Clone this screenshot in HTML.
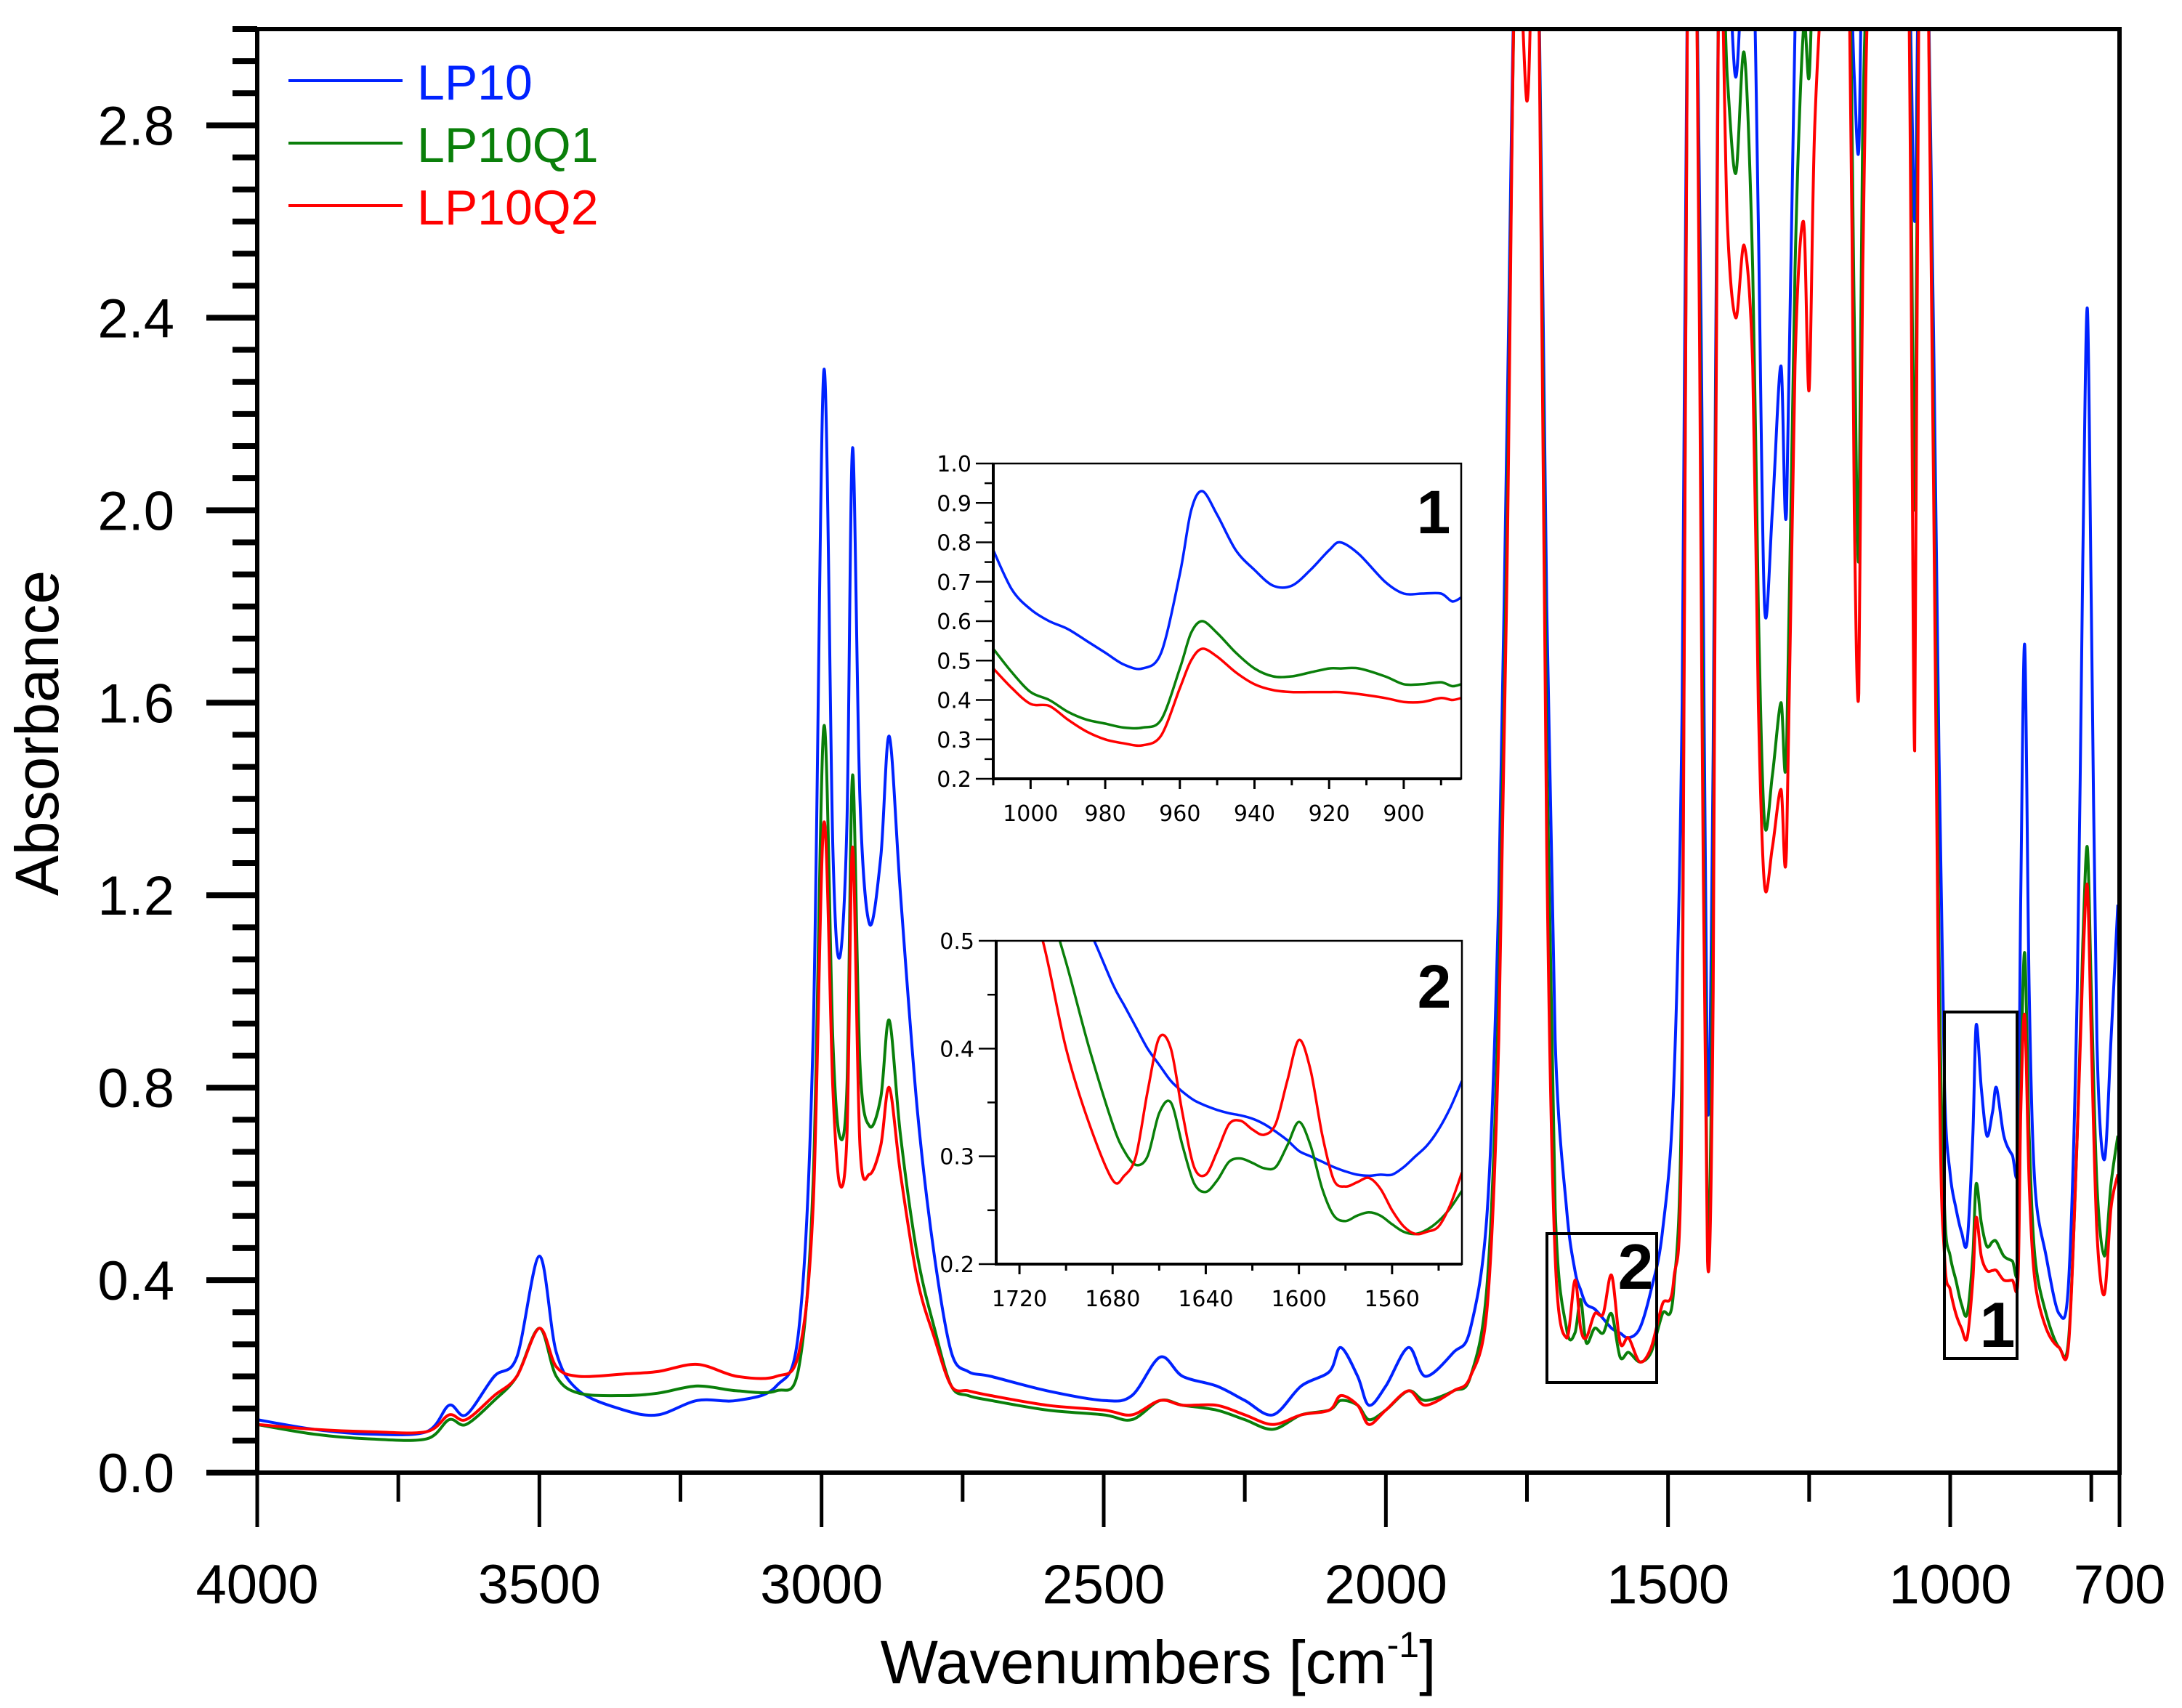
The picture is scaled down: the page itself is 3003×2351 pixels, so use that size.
<!DOCTYPE html>
<html><head><meta charset="utf-8"><style>
html,body{margin:0;padding:0;background:#fff;}
svg{display:block;}
text{font-family:"Liberation Sans",Arial,sans-serif;}
</style></head><body>
<svg id="chart" width="3003" height="2351" viewBox="0 0 3003 2351" xmlns="http://www.w3.org/2000/svg">
<defs>
<clipPath id="mainClip"><rect x="354" y="40" width="2563" height="1987"/></clipPath>
<clipPath id="in1Clip"><rect x="1367" y="638" width="644" height="434"/></clipPath>
<clipPath id="in2Clip"><rect x="1371" y="1295" width="641" height="445"/></clipPath>
</defs>
<g id="main"></g>
<g id="inset1"></g>
<g id="inset2"></g>
</svg>
<script>
// ---- main spectrum data ----
const wn = [4000,3900,3800,3700,3660,3630,3580,3540,3500,3470,3430,3350,3290,3220,3150,3080,3040,3015,2996,2980,2968,2955,2945,2932,2915,2895,2880,2860,2830,2800,2770,2740,2700,2600,2500,2450,2400,2360,2300,2250,2200,2150,2100,2080,2050,2030,2000,1960,1930,1880,1850,1820,1800,1785,1770,1750,1740,1730,1715,1700,1680,1665,1655,1645,1630,1615,1600,1585,1570,1550,1530,1510,1490,1475,1465,1450,1440,1430,1420,1410,1395,1380,1365,1350,1340,1329,1315,1300,1290,1275,1260,1250,1240,1220,1200,1180,1170,1162,1155,1140,1100,1075,1063,1055,1040,1020,1010,1000,990,980,970,960,954,945,935,925,918,905,890,880,875,868,860,850,830,807,790,775,765,757,750,740,727,715,703];
const lp10 = [.11,.09,.08,.085,.14,.12,.2,.24,.45,.25,.17,.13,.12,.15,.15,.18,.3,.9,2.29,1.3,1.07,1.35,2.13,1.4,1.14,1.28,1.53,1.2,.75,.45,.25,.21,.2,.17,.15,.16,.24,.2,.18,.15,.12,.18,.21,.26,.2,.14,.18,.26,.2,.25,.3,.55,1.2,2.2,3.2,3.2,3.2,3.2,1.8,.9,.55,.42,.38,.35,.34,.32,.3,.29,.28,.3,.38,.5,.8,1.6,3.2,3.2,2.2,.76,1.5,3.2,3.2,2.9,3.2,3.2,2.6,1.8,2.0,2.3,2.0,3.0,3.2,3.2,3.2,3.2,3.2,3.2,2.9,2.75,3.2,3.2,3.2,3.2,2.6,3.2,3.2,1.5,.8,.62,.55,.5,.48,.7,.93,.8,.7,.75,.8,.7,.66,.65,1.2,1.72,1.0,.6,.45,.33,.4,1.0,1.9,2.42,1.8,.9,.65,.9,1.18];
const lp10q1 = [.1,.08,.07,.07,.11,.1,.15,.2,.3,.2,.165,.16,.165,.18,.17,.17,.22,.6,1.55,.9,.7,.8,1.45,.85,.72,.78,.94,.7,.45,.3,.18,.16,.15,.13,.12,.11,.15,.14,.13,.11,.09,.12,.13,.15,.14,.11,.13,.17,.15,.17,.2,.4,1.0,2.0,3.2,3.2,3.2,3.2,1.5,.55,.3,.29,.36,.27,.3,.29,.33,.24,.25,.23,.25,.33,.38,.9,3.2,3.2,1.8,.48,1.2,3.2,2.9,2.7,2.95,2.5,1.8,1.35,1.45,1.6,1.5,2.5,3.0,2.9,3.2,3.2,3.2,3.2,2.4,1.9,2.8,3.2,3.2,3.2,2.0,3.2,3.2,1.1,.55,.45,.4,.35,.33,.45,.6,.52,.47,.48,.48,.45,.44,.43,.8,1.08,.7,.45,.33,.26,.28,.7,1.1,1.3,1.0,.6,.45,.6,.7];
const lp10q2 = [.1,.09,.085,.085,.12,.11,.16,.2,.3,.22,.2,.205,.21,.225,.2,.2,.25,.55,1.35,.8,.6,.7,1.3,.68,.62,.68,.8,.62,.4,.28,.18,.17,.16,.14,.13,.12,.15,.14,.14,.12,.1,.12,.13,.16,.14,.1,.13,.17,.14,.17,.2,.35,.9,1.9,3.2,2.85,3.2,3.2,1.3,.45,.28,.4,.3,.28,.33,.33,.41,.27,.28,.23,.26,.35,.4,.8,3.2,3.2,1.6,.44,1.0,3.2,2.6,2.4,2.55,2.3,1.6,1.22,1.3,1.42,1.3,2.3,2.6,2.25,2.8,3.2,3.2,3.2,2.0,1.62,2.5,3.2,3.2,3.2,1.5,3.2,3.2,.9,.45,.38,.33,.3,.28,.4,.53,.45,.42,.42,.42,.4,.4,.4,.75,.95,.6,.4,.3,.26,.27,.7,1.05,1.22,.9,.5,.37,.55,.62];
const xTickLabels = [4000,3500,3000,2500,2000,1500,1000,700];
const yTickLabels = [0.0,0.4,0.8,1.2,1.6,2.0,2.4,2.8];
// ---- inset 1 data ----
const wn1 = [1010,1005,1000,995,990,985,980,975,970,965,960,957,954,950,945,940,935,930,925,920,917,912,905,900,895,890,887,884.6];
const in1Lp10 = [.78,.68,.63,.6,.58,.55,.52,.49,.48,.52,.72,.88,.93,.87,.78,.73,.69,.69,.73,.78,.8,.77,.7,.67,.67,.67,.65,.66];
const in1Q1 = [.53,.47,.42,.4,.37,.35,.34,.33,.33,.35,.48,.57,.6,.57,.52,.48,.46,.46,.47,.48,.48,.48,.46,.44,.44,.445,.435,.44];
const in1Q2 = [.48,.43,.39,.385,.35,.32,.3,.29,.285,.31,.43,.5,.53,.51,.47,.44,.425,.42,.42,.42,.42,.415,.405,.395,.395,.405,.4,.405];
const in1XLabels = [1000,980,960,940,920,900];
const in1YLabels = [0.2,0.3,0.4,0.5,0.6,0.7,0.8,0.9,1.0];
// ---- inset 2 data ----
const wn2 = [1730,1725,1720,1710,1700,1690,1680,1675,1670,1665,1660,1655,1650,1645,1640,1635,1630,1625,1620,1615,1610,1605,1600,1595,1590,1585,1580,1575,1570,1565,1560,1555,1550,1545,1540,1535,1530];
const in2Lp10 = [.75,.7,.66,.6,.55,.51,.46,.44,.42,.40,.385,.37,.36,.352,.347,.343,.34,.338,.335,.33,.323,.315,.305,.3,.295,.29,.286,.283,.282,.283,.283,.29,.3,.31,.325,.345,.37];
const in2Q1 = [.7,.65,.6,.55,.48,.4,.33,.305,.292,.3,.34,.35,.31,.275,.267,.278,.295,.298,.294,.289,.29,.31,.332,.31,.27,.245,.24,.245,.248,.245,.237,.23,.228,.232,.24,.252,.268];
const in2Q2 = [.7,.62,.56,.5,.4,.33,.278,.282,.3,.36,.41,.4,.34,.29,.283,.305,.33,.333,.325,.32,.33,.37,.408,.38,.32,.278,.272,.276,.28,.27,.25,.235,.228,.23,.235,.255,.285];
const in2XLabels = [1720,1680,1640,1600,1560];
const in2YLabels = [0.2,0.3,0.4,0.5];

const NS = "http://www.w3.org/2000/svg";
function mk(parent, tag, attrs, txt){
  const e = document.createElementNS(NS, tag);
  for (const k in attrs) e.setAttribute(k, attrs[k]);
  if (txt !== undefined) e.textContent = txt;
  parent.appendChild(e); return e;
}
function axis(x0,x1,w0,w1,y0,y1,a0,a1){
  return {x: w => x0 + (w0 - w)/(w0 - w1)*(x1 - x0), y: a => y1 - (a - a0)/(a1 - a0)*(y1 - y0)};
}
function smoothPath(ax, xs, ys){
  const n = Math.min(xs.length, ys.length); const P = [];
  for (let i=0;i<n;i++) P.push([ax.x(xs[i]), ax.y(ys[i])]);
  let d = "M"+P[0][0].toFixed(1)+","+P[0][1].toFixed(1);
  const t = 0.16;
  for (let i=0;i<n-1;i++){
    const p0 = P[Math.max(0,i-1)], p1 = P[i], p2 = P[i+1], p3 = P[Math.min(n-1,i+2)];
    const c1x = p1[0] + (p2[0]-p0[0])*t, c1y = p1[1] + (p2[1]-p0[1])*t;
    const c2x = p2[0] - (p3[0]-p1[0])*t, c2y = p2[1] - (p3[1]-p1[1])*t;
    d += " C"+c1x.toFixed(1)+","+c1y.toFixed(1)+" "+c2x.toFixed(1)+","+c2y.toFixed(1)+" "+p2[0].toFixed(1)+","+p2[1].toFixed(1);
  }
  return d;
}
const colors = {lp10:"#0022ff", q1:"#0a7f0a", q2:"#ff0000"};

// ===== MAIN =====
const g = document.getElementById("main");
const M = axis(354,2917,4000,700,40,2027,0,3.0);
let s;
s = mk(g,"path",{d:smoothPath(M,wn,lp10),fill:"none",stroke:colors.lp10,"stroke-width":4,"stroke-linejoin":"round","clip-path":"url(#mainClip)"});


s = mk(g,"path",{d:smoothPath(M,wn,lp10q1),fill:"none",stroke:colors.q1,"stroke-width":4,"stroke-linejoin":"round","clip-path":"url(#mainClip)"});


s = mk(g,"path",{d:smoothPath(M,wn,lp10q2),fill:"none",stroke:colors.q2,"stroke-width":4,"stroke-linejoin":"round","clip-path":"url(#mainClip)"});


s = mk(g,"rect",{x:354,y:40,width:2563,height:1987,fill:"none",stroke:"#000","stroke-width":6});


for (let i=0;i<=45;i++){
  const v = i*0.4/6; if (v>3.0001) break;
  const major = (i%6===0);
  const yy = M.y(v);
  s = mk(g,"line",{x1:354-(major?70:34),x2:354,y1:yy,y2:yy,stroke:"#000","stroke-width":8});
  
  
}
yTickLabels.forEach(v=>{
  const t = mk(g,"text",{x:240,y:M.y(v)+27,"text-anchor":"end","font-size":76},v.toFixed(1));
  
  
});
for (let w=4000; w>=700; w-=250){
  const major = (w%500===0);
  const xx = M.x(w);
  s = mk(g,"line",{x1:xx,x2:xx,y1:2027,y2:2027+(major?75:40),stroke:"#000","stroke-width":5});
  
  
}
s = mk(g,"line",{x1:M.x(700),x2:M.x(700),y1:2027,y2:2102,stroke:"#000","stroke-width":5});


xTickLabels.forEach(v=>{
  const t = mk(g,"text",{x:M.x(v),y:2207,"text-anchor":"middle","font-size":76},String(v));
  
  
});
s = mk(g,"text",{x:1594,y:2317,"text-anchor":"middle","font-size":84});


s.appendChild(document.createTextNode("Wavenumbers [cm"));
mk(s,"tspan",{dy:-36,"font-size":50},"-1");
mk(s,"tspan",{dy:36},"]");
s = mk(g,"text",{x:0,y:0,transform:"translate(80,1009) rotate(-90)","text-anchor":"middle","font-size":84},"Absorbance");


const leg = [["LP10",colors.lp10],["LP10Q1",colors.q1],["LP10Q2",colors.q2]];
leg.forEach((L,i)=>{
  const yy = 111 + i*86;
  s = mk(g,"line",{x1:397,x2:554,y1:yy,y2:yy,stroke:L[1],"stroke-width":4});
  
  
  s = mk(g,"text",{x:574,y:yy+26,"font-size":68,fill:L[1]},L[0]);
  
  
});
s = mk(g,"rect",{x:2129,y:1698,width:151,height:205,fill:"none",stroke:"#000","stroke-width":4});


s = mk(g,"text",{x:2251,y:1774,"text-anchor":"middle","font-size":88,"font-weight":"bold"},"2");


s = mk(g,"rect",{x:2676,y:1393,width:100,height:477,fill:"none",stroke:"#000","stroke-width":4});


s = mk(g,"text",{x:2749,y:1854,"text-anchor":"middle","font-size":88,"font-weight":"bold"},"1");



// ===== INSETS =====
function drawInset(gid, box, wrange, arange, xs, sets, xl, yl, yMinorStep, yMajorStep, xTickStep, label, clip){
  const G = document.getElementById(gid);
  const A = axis(box[0],box[2],wrange[0],wrange[1],box[1],box[3],arange[0],arange[1]);
  mk(G,"rect",{x:box[0],y:box[1],width:box[2]-box[0],height:box[3]-box[1],fill:"#fff"});
  sets.forEach(S=>{
    const p = mk(G,"path",{d:smoothPath(A,xs,S[0]),fill:"none",stroke:S[1],"stroke-width":3.5,"stroke-linejoin":"round","clip-path":clip});
    
    
  });
  let e = mk(G,"rect",{x:box[0],y:box[1],width:box[2]-box[0],height:box[3]-box[1],fill:"none",stroke:"#000","stroke-width":2.5});
  
  
  mk(G,"line",{x1:box[0],x2:box[0],y1:box[1],y2:box[3]+2,stroke:"#000","stroke-width":4});
  mk(G,"line",{x1:box[0],x2:box[2],y1:box[3],y2:box[3],stroke:"#000","stroke-width":4});
  for (let v=arange[0]; v<=arange[1]+1e-6; v+=yMinorStep){
    const major = Math.abs(Math.round(v/yMajorStep)*yMajorStep - v) < 1e-6;
    e = mk(G,"line",{x1:box[0]-(major?24:12),x2:box[0],y1:A.y(v),y2:A.y(v),stroke:"#000","stroke-width":2.5});
    
    
  }
  yl.forEach(v=>{
    e = mk(G,"text",{x:box[0]-30,y:A.y(v)+11,"text-anchor":"end","font-size":30,style:"font-family:'DejaVu Sans',sans-serif"},v.toFixed(1));
    
    
  });
  const wstart = Math.floor(wrange[0]/xTickStep)*xTickStep;
  for (let w=wstart; w>=wrange[1]; w-=xTickStep){
    const labeled = xl.indexOf(w)>=0;
    e = mk(G,"line",{x1:A.x(w),x2:A.x(w),y1:box[3],y2:box[3]+(labeled?14:9),stroke:"#000","stroke-width":3});
    
    
  }
  xl.forEach(v=>{
    e = mk(G,"text",{x:A.x(v),y:box[3]+58,"text-anchor":"middle","font-size":30,style:"font-family:'DejaVu Sans',sans-serif"},String(v));
    
    
  });
  e = mk(G,"text",{x:box[2]-38,y:box[1]+(label==="1"?96:92),"text-anchor":"middle","font-size":84,"font-weight":"bold"},label);
  
  
}
drawInset("inset1",[1367,638,2011,1072],[1010,884.6],[0.2,1.0],wn1,
  [[in1Lp10,colors.lp10,'inset1-lp10'],[in1Q1,colors.q1,'inset1-lp10q1'],[in1Q2,colors.q2,'inset1-lp10q2']],
  in1XLabels,in1YLabels,0.05,0.1,10,"1","url(#in1Clip)");
drawInset("inset2",[1371,1295,2012,1740],[1730,1530],[0.2,0.5],wn2,
  [[in2Lp10,colors.lp10,'inset2-lp10'],[in2Q1,colors.q1,'inset2-lp10q1'],[in2Q2,colors.q2,'inset2-lp10q2']],
  in2XLabels,in2YLabels,0.05,0.1,20,"2","url(#in2Clip)");
</script>
</body></html>
